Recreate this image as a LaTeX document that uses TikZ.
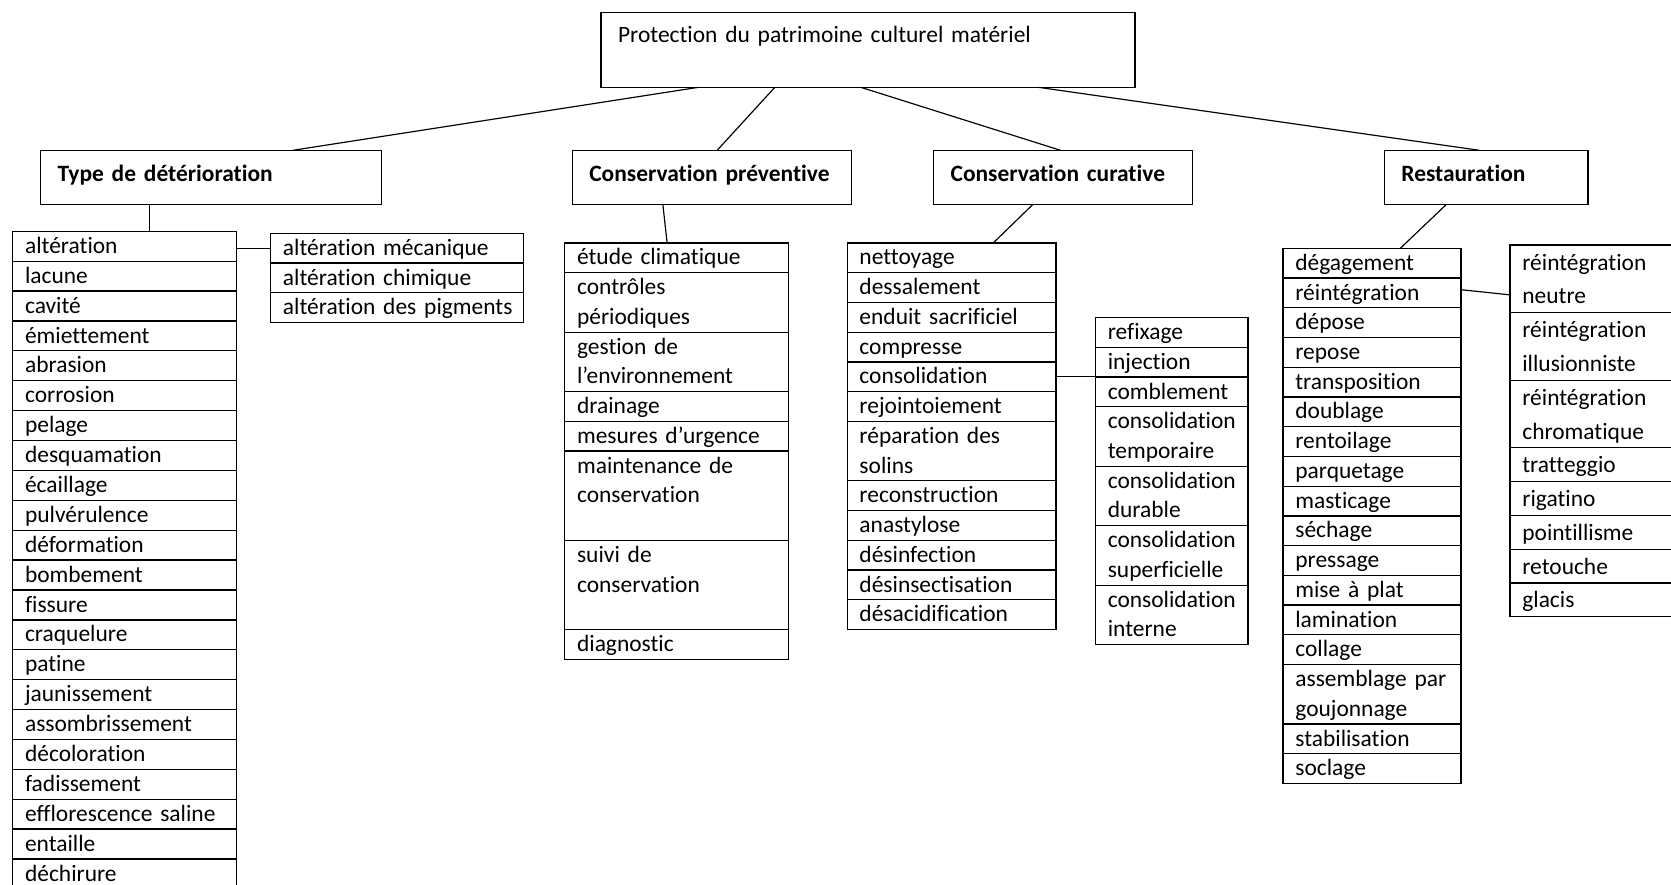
\documentclass[tikz,border=0pt]{standalone}
\usepackage{fontspec}
\setmainfont{Carlito}[Ligatures={NoCommon}]
\hyphenpenalty=10000
\exhyphenpenalty=10000
\newcommand\cellstrut{\vrule height 0.74\baselineskip depth 0.26\baselineskip width 0pt}
\newcommand\mkcolumn[6]{%
  \coordinate (#1top) at (#2,#3);
  \foreach \txt [count=\ci, remember=\ci as \cj (initially top)] in {#6}{%
    \node[#5=#4, anchor=north west] (#1\ci) at (#1\cj.south west) {\txt};
  }}
\tikzset{
  x=1pt, y=-1pt,
  cellA/.style={draw, line width=1.2pt, font=\fontsize{22}{27.9}\selectfont,
    inner xsep=4pt, inner ysep=0pt, outer sep=0pt, text width=#1, align=left,
    execute at begin node={\leftskip=7.5pt\relax\cellstrut}, execute at end node={\cellstrut}},
  cellT/.style={cellA=#1, font=\fontsize{22}{28.05}\selectfont},
  cellB/.style={cellA=#1, font=\fontsize{22}{31.7}\selectfont},
  hdr/.style={draw, line width=1.2pt, font=\fontsize{22}{27}\selectfont\bfseries,
    inner xsep=16pt, inner ysep=0pt, outer sep=0pt, anchor=north west,
    text height=29.4pt, text depth=21.6pt, text width=#1, align=left},
  topbox/.style={draw, line width=1.2pt, font=\fontsize{22}{27}\selectfont,
    inner xsep=16pt, inner ysep=0pt, outer sep=0pt, anchor=north west,
    text height=28pt, text depth=42pt, text width=469pt, align=left},
  conn/.style={draw, line width=1.1pt},
}
\begin{document}
\begin{tikzpicture}
\useasboundingbox (0,0) rectangle (1568,830);
\clip (0,0) rectangle (1568,830);

\node[topbox] (top) at (564,12) {Protection du patrimoine culturel matériel};

\node[hdr=288pt] (type) at (38,141) {Type de détérioration};
\node[hdr=230pt] (prev) at (537,141) {Conservation préventive};
\node[hdr=211pt] (cur) at (876,141) {Conservation curative};
\node[hdr=159pt] (rest) at (1299,141) {Restauration};

\mkcolumn{td}{12}{217}{202pt}{cellT}{altération, lacune, cavité, émiettement, abrasion, corrosion, pelage, desquamation, écaillage, pulvérulence, déformation, bombement, fissure, craquelure, patine, jaunissement, assombrissement, décoloration, fadissement, efflorescence saline, entaille, déchirure}

\mkcolumn{ts}{254}{219}{229pt}{cellA}{altération mécanique, altération chimique, altération des pigments}

\mkcolumn{pv}{530}{228}{202pt}{cellA}{étude climatique, {contrôles\\périodiques}, {gestion de\\l’environnement}, drainage, mesures d’urgence, {maintenance de\\conservation\\~}, {suivi de\\conservation\\~}, diagnostic}

\mkcolumn{cv}{795}{228}{188pt}{cellA}{nettoyage, dessalement, enduit sacrificiel, compresse, consolidation, rejointoiement, {réparation des\\solins}, reconstruction, anastylose, désinfection, désinsectisation, désacidification}

\mkcolumn{cs}{1028}{298}{135pt}{cellA}{refixage, injection, comblement, {consolidation\\temporaire}, {consolidation\\durable}, {consolidation\\superficielle}, {consolidation\\interne}}

\mkcolumn{rv}{1204}{233}{159pt}{cellA}{dégagement, réintégration, dépose, repose, transposition, doublage, rentoilage, parquetage, masticage, séchage, pressage, mise à plat, lamination, collage, {assemblage par\\goujonnage}, stabilisation, soclage}

\mkcolumn{rs}{1417}{230}{172pt}{cellB}{{réintégration\\neutre}, {réintégration\\illusionniste}, {réintégration\\chromatique}, tratteggio, rigatino, pointillisme, retouche, glacis}

% connectors from the top box
\draw[conn] ([xshift=91pt]top.south west) -- ([xshift=237pt]type.north west);
\draw[conn] ([xshift=163pt]top.south west) -- ([xshift=136pt]prev.north west);
\draw[conn] ([xshift=244pt]top.south west) -- ([xshift=119pt]cur.north west);
\draw[conn] ([xshift=411pt]top.south west) -- ([xshift=89pt]rest.north west);

% headers to tables
\draw[conn] ([xshift=102pt]type.south west) -- ([xshift=128pt]td1.north west);
\draw[conn] ([xshift=85pt]prev.south west) -- ([xshift=96pt]pv1.north west);
\draw[conn] ([xshift=93pt]cur.south west) -- ([xshift=137pt]cv1.north west);
\draw[conn] ([xshift=58pt]rest.south west) -- ([xshift=110pt]rv1.north west);

% sub-tables
\draw[conn] ([yshift=-2pt]td1.east) -- ([yshift=-2pt]td1.east -| ts1.west);
\draw[conn] (cv5.east) -- (cv5.east -| cs1.west);
\draw[conn] ([yshift=3pt]rv2.east) -- ([yshift=-15pt]rs1.west);
\end{tikzpicture}
\end{document}
